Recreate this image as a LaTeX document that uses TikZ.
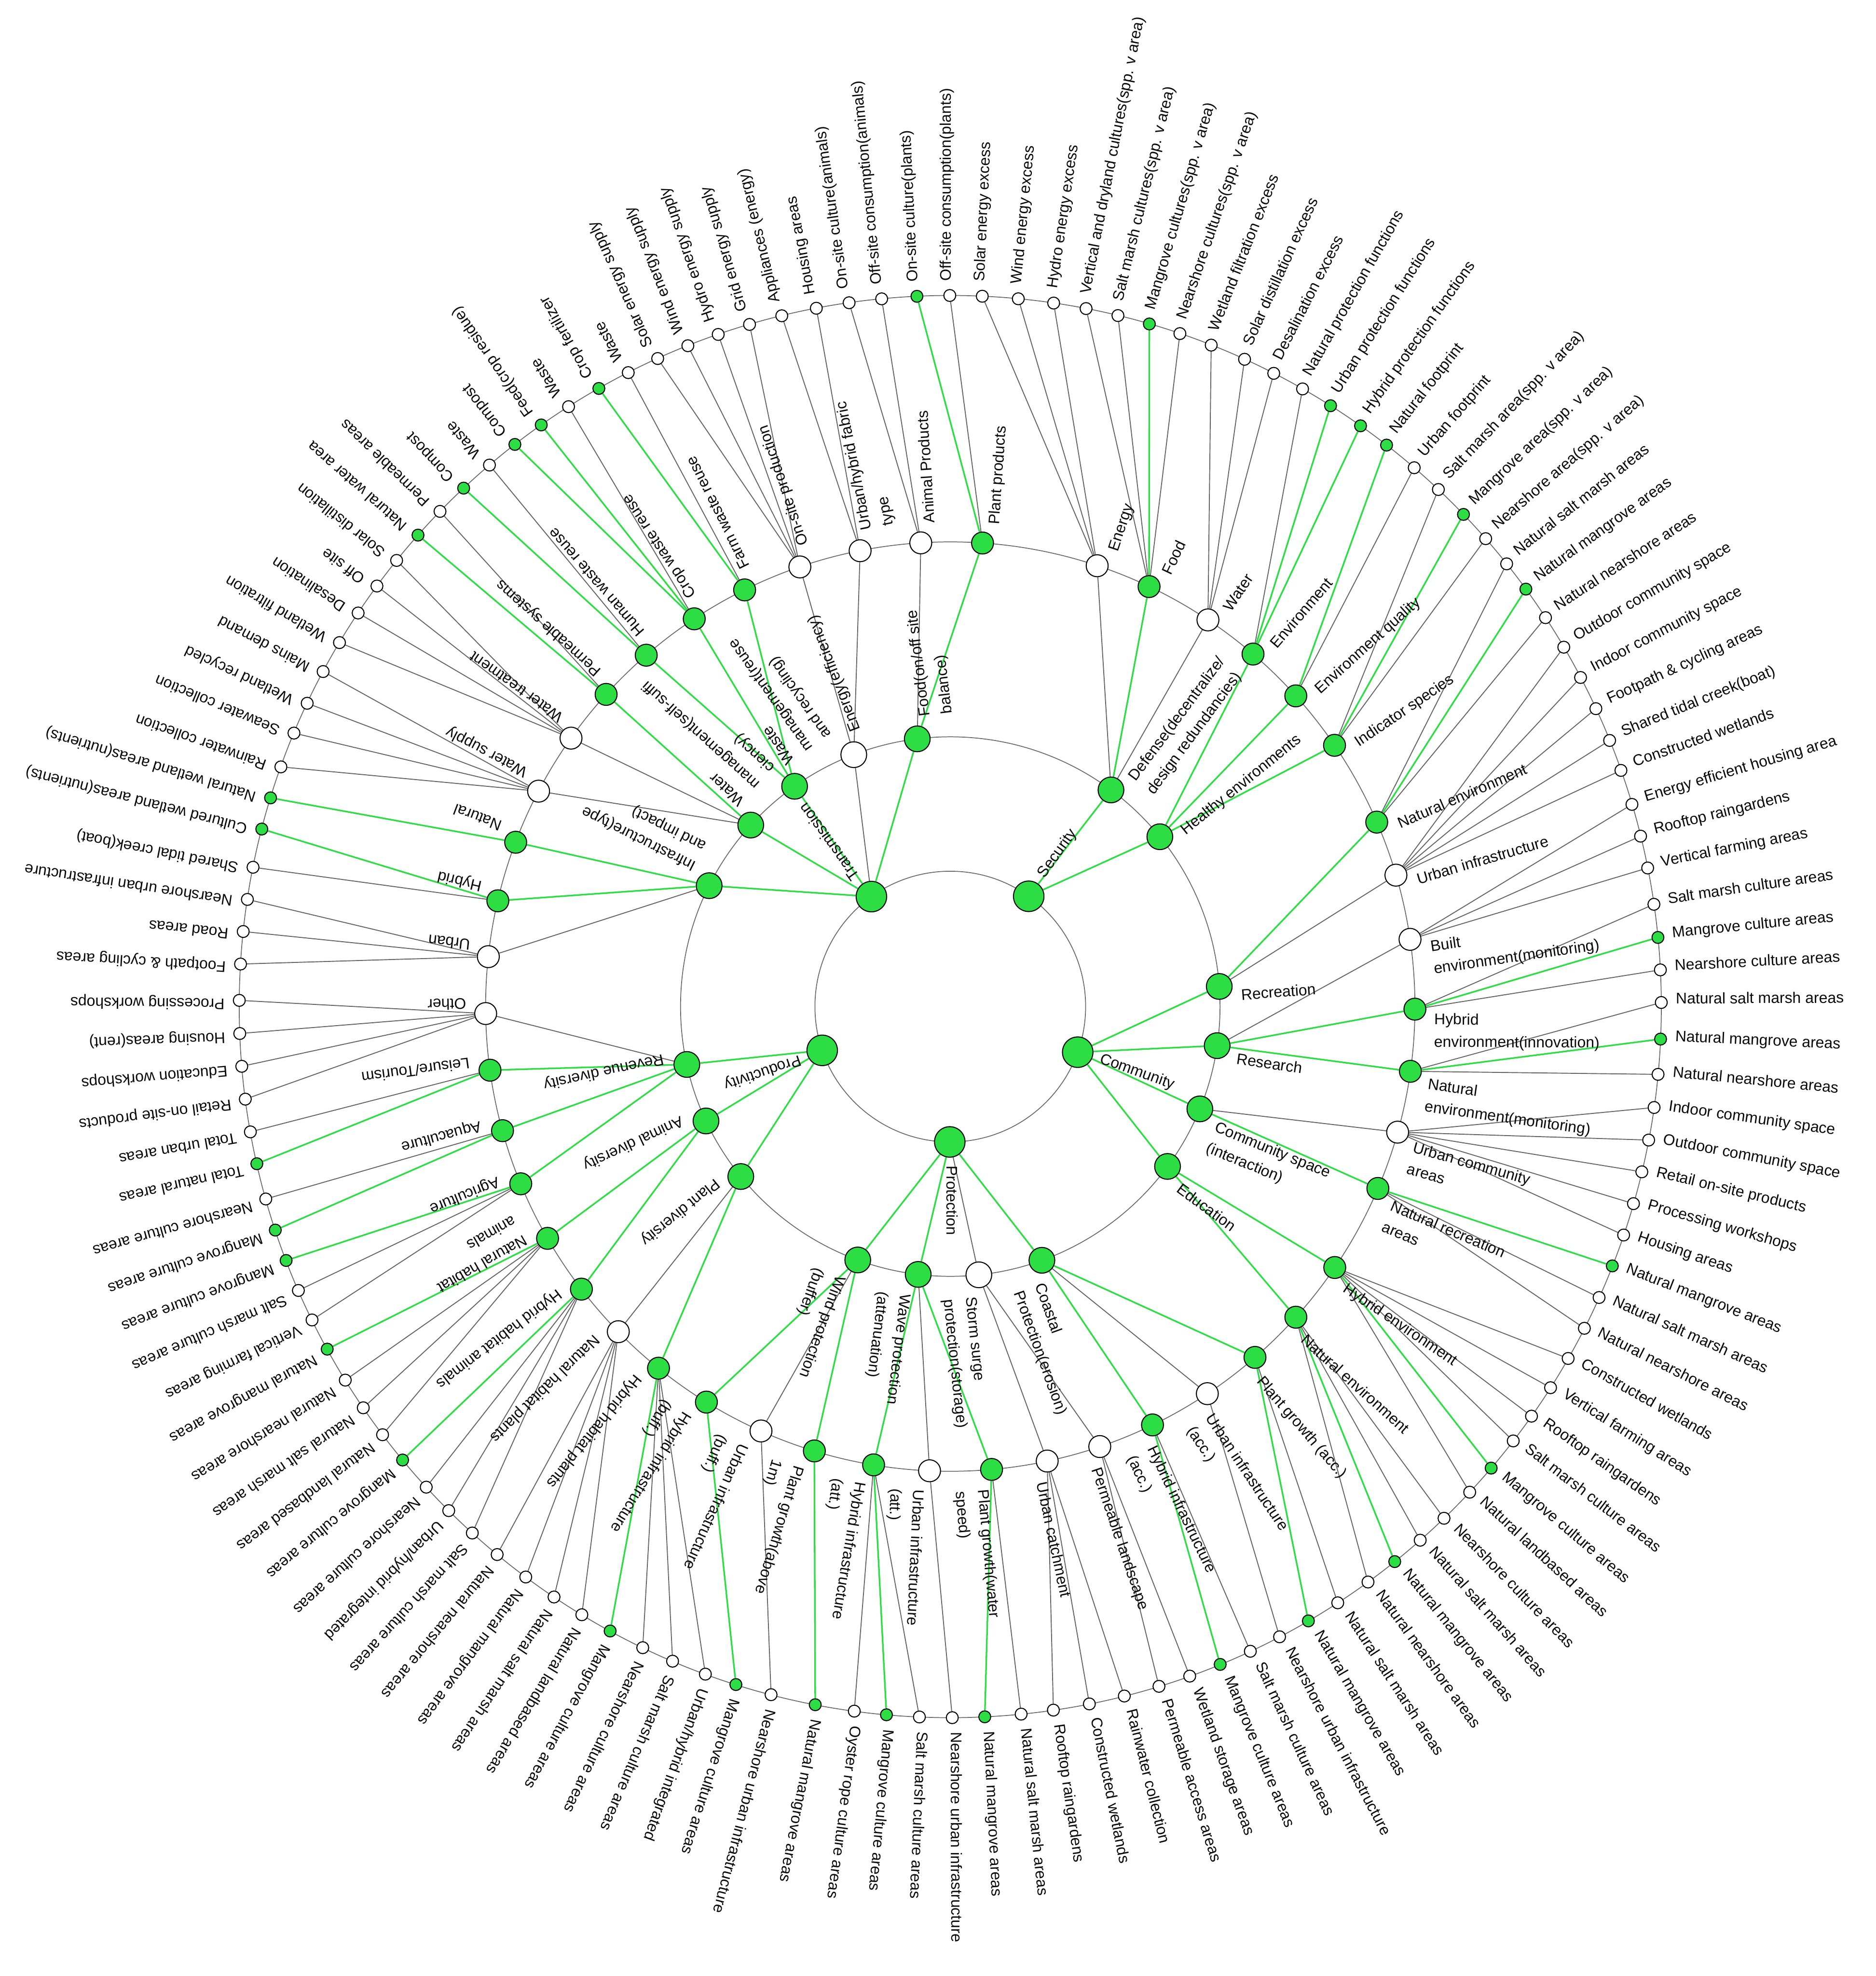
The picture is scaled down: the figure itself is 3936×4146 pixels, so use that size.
\documentclass[tikz,border=0pt]{standalone}
\usepackage{fontspec}
\setmainfont{Liberation Sans}
\usetikzlibrary{calc}
\definecolor{grn}{RGB}{44,222,68}
\definecolor{edgec}{RGB}{100,100,100}
\definecolor{ringc}{RGB}{105,105,105}
\definecolor{txt}{RGB}{10,10,10}
\pgfdeclarelayer{rg}\pgfdeclarelayer{ew}\pgfdeclarelayer{eg}
\pgfsetlayers{rg,ew,eg,main}
\tikzset{
  ring/.style={draw=ringc, line width=0.5pt},
  edw/.style={draw=edgec, line width=0.55pt},
  edg/.style={draw=grn, line width=0.95pt},
  ndbase/.style={circle, draw=black, line width=0.6pt, inner sep=0pt},
  nd1/.style={ndbase, minimum size=0.64cm},
  nd2/.style={ndbase, minimum size=0.54cm},
  nd3/.style={ndbase, minimum size=0.46cm},
  nd4/.style={ndbase, minimum size=0.25cm},
  fg/.style={fill=grn},
  fw/.style={fill=white},
  lbl/.style={font=\fontsize{9.2}{11}\selectfont, inner sep=0pt, text=txt}
}
% name, angle, radius, level, g/w, parent
\newcommand\mynd[6]{%
  \node[nd#4, f#5] (#1) at (#2:#3) {};
  \begin{pgfonlayer}{e#5}\draw[ed#5] (#6) -- (#1);\end{pgfonlayer}}
% name, angle, start radius, offset, text
\newcommand\mylab[5]{%
  \node[lbl, rotate=#2, anchor=base west] (#1) at ($(#2:#3)+(#2-90:#4)$) {#5};}
% id, angle, g/w, parent, text
\newcommand\mylf[5]{%
  \mynd{L#1}{#2}{1492}{4}{#3}{#4}%
  \mylab{LT#1}{#2}{1522}{3}{#5}}
\begin{document}
\begin{tikzpicture}[x=0.01cm,y=0.01cm]
\useasboundingbox (-1994,-2034) rectangle (1942,2112);
\begin{pgfonlayer}{rg}
\foreach \r in {284,566,975,1492}{\draw[ring] (0,0) circle[radius=\r];}
\end{pgfonlayer}
% ---------- level 1
\node[nd1,fg] (Tra) at (-234.35:284) {};
\node[nd1,fg] (Sec) at (-305.42:284) {};
\node[nd1,fg] (Com) at (-19.69:284) {};
\node[nd1,fg] (Pro) at (-90.21:284) {};
\node[nd1,fg] (Prd) at (-161.13:284) {};
\mylab{TraT}{-234.35}{333}{6}{Transmission}
\mylab{SecT}{-305.42}{333}{6}{Security}
\mylab{ComT}{-19.69}{333}{6}{Community}
\mylab{ProT}{-90.21}{333}{6}{Protection}
\mylab{PrdT}{-161.13}{333}{6}{Productivity}
% ---------- level 2
\mynd{Infra}{-206.63}{566}{2}{g}{Tra}
\mylab{InfraT1}{-206.63}{610}{32}{Infrastructure(type}
\mylab{InfraT2}{-206.63}{610}{79}{and impact)}
\mynd{WatM}{-222.29}{566}{2}{g}{Tra}
\mylab{WatMT1}{-222.29}{610}{32}{Water}
\mylab{WatMT2}{-222.29}{610}{79}{management(self-suffi}
\mylab{WatMT3}{-222.29}{610}{126}{ciency)}
\mynd{WasM}{-234.75}{566}{2}{g}{Tra}
\mylab{WasMT1}{-234.75}{610}{32}{Waste}
\mylab{WasMT2}{-234.75}{610}{79}{management(reuse}
\mylab{WasMT3}{-234.75}{610}{126}{and recycling)}
\mynd{EnE}{-249.04}{566}{2}{w}{Tra}
\mylab{EnET}{-249.04}{610}{32}{Energy(efficiency)}
\mynd{FoB}{-262.97}{566}{2}{g}{Tra}
\mylab{FoBT1}{-262.97}{610}{32}{Food(on/off site}
\mylab{FoBT2}{-262.97}{610}{79}{balance)}
\mynd{Def}{-306.57}{566}{2}{g}{Sec}
\mylab{DefT1}{-306.57}{610}{32}{Defense(decentralize/}
\mylab{DefT2}{-306.57}{610}{79}{design redundancies)}
\mynd{HEn}{-320.98}{566}{2}{g}{Sec}
\mylab{HEnT}{-320.98}{610}{32}{Healthy environments}
\mynd{Rec}{-355.72}{566}{2}{g}{Com}
\mylab{RecT}{-355.72}{610}{32}{Recreation}
\mynd{Res}{-8.33}{566}{2}{g}{Com}
\mylab{ResT}{-8.33}{610}{32}{Research}
\mynd{CSp}{-22.29}{566}{2}{g}{Com}
\mylab{CSpT1}{-22.29}{610}{32}{Community space}
\mylab{CSpT2}{-22.29}{610}{79}{(interaction)}
\mynd{Edu}{-36.34}{566}{2}{g}{Com}
\mylab{EduT}{-36.34}{610}{32}{Education}
\mynd{Coa}{-70.14}{566}{2}{g}{Pro}
\mylab{CoaT1}{-70.14}{610}{32}{Coastal}
\mylab{CoaT2}{-70.14}{610}{79}{Protection(erosion)}
\mynd{Sto}{-83.92}{566}{2}{w}{Pro}
\mylab{StoT1}{-83.92}{610}{32}{Storm surge}
\mylab{StoT2}{-83.92}{610}{79}{protection(storage)}
\mynd{Wav}{-96.83}{566}{2}{g}{Pro}
\mylab{WavT1}{-96.83}{610}{32}{Wave protection}
\mylab{WavT2}{-96.83}{610}{79}{(attenuation)}
\mynd{Win}{-110.06}{566}{2}{g}{Pro}
\mylab{WinT1}{-110.06}{610}{32}{Wind protection}
\mylab{WinT2}{-110.06}{610}{79}{(buffer)}
\mynd{PlD}{-140.95}{566}{2}{g}{Prd}
\mylab{PlDT}{-140.95}{610}{32}{Plant diversity}
\mynd{AnD}{-154.91}{566}{2}{g}{Prd}
\mylab{AnDT}{-154.91}{610}{32}{Animal diversity}
\mynd{RevD}{-167.61}{566}{2}{g}{Prd}
\mylab{RevDT}{-167.61}{610}{32}{Revenue diversity}
% ---------- level 3
\mynd{TUrb}{-186.17}{975}{3}{w}{Infra}\mylab{TUrbT}{-186.17}{1015}{32}{Urban}
\mynd{THyb}{-193.16}{975}{3}{g}{Infra}\mylab{THybT}{-193.16}{1015}{32}{Hybrid}
\mynd{TNat}{-200.71}{975}{3}{g}{Infra}\mylab{TNatT}{-200.71}{1015}{32}{Natural}
\mynd{WSup}{-207.62}{975}{3}{w}{WatM}\mylab{WSupT}{-207.62}{1015}{32}{Water supply}
\mynd{WTre}{-215.29}{975}{3}{w}{WatM}\mylab{WTreT}{-215.29}{1015}{32}{Water treatment}
\mynd{PSys}{-222.21}{975}{3}{g}{WatM}\mylab{PSysT}{-222.21}{1015}{32}{Permeable systems}
\mynd{HWR}{-229.13}{975}{3}{g}{WasM}\mylab{HWRT}{-229.13}{1015}{32}{Human waste reuse}
\mynd{CWR}{-236.56}{975}{3}{g}{WasM}\mylab{CWRT}{-236.56}{1015}{32}{Crop waste reuse}
\mynd{FWR}{-243.73}{975}{3}{g}{WasM}\mylab{FWRT}{-243.73}{1015}{32}{Farm waste reuse}
\mynd{OSP}{-251.11}{975}{3}{w}{EnE}\mylab{OSPT}{-251.11}{1015}{32}{On-site production}
\mynd{UHF}{-258.81}{975}{3}{w}{EnE}\mylab{UHFT1}{-258.81}{1015}{32}{Urban/hybrid fabric}\mylab{UHFT2}{-258.81}{1015}{79}{type}
\mynd{AnP}{-266.36}{975}{3}{w}{FoB}\mylab{AnPT}{-266.36}{1015}{32}{Animal Products}
\mynd{PlP}{-273.98}{975}{3}{g}{FoB}\mylab{PlPT}{-273.98}{1015}{32}{Plant products}
\mynd{DEn}{-288.43}{975}{3}{w}{Def}\mylab{DEnT}{-288.43}{1015}{32}{Energy}
\mynd{DFo}{-295.33}{975}{3}{g}{Def}\mylab{DFoT}{-295.33}{1015}{32}{Food}
\mynd{DWa}{-303.68}{975}{3}{w}{Def}\mylab{DWaT}{-303.68}{1015}{32}{Water}
\mynd{Env}{-310.66}{975}{3}{g}{HEn}\mylab{EnvT}{-310.66}{1015}{32}{Environment}
\mynd{EnQ}{-318.04}{975}{3}{g}{HEn}\mylab{EnQT}{-318.04}{1015}{32}{Environment quality}
\mynd{Ind}{-325.79}{975}{3}{g}{HEn}\mylab{IndT}{-325.79}{1015}{32}{Indicator species}
\mynd{RNE}{-336.61}{975}{3}{g}{Rec}\mylab{RNET}{-336.61}{1015}{32}{Natural environment}
\mynd{RUI}{-343.57}{975}{3}{w}{Rec}\mylab{RUIT}{-343.57}{1015}{32}{Urban infrastructure}
\mynd{Blt}{-351.68}{975}{3}{w}{Res}\mylab{BltT1}{-351.68}{1015}{32}{Built}\mylab{BltT2}{-351.68}{1015}{79}{environment(monitoring)}
\mynd{HEI}{-0.32}{975}{3}{g}{Res}\mylab{HEIT1}{-0.32}{1015}{32}{Hybrid}\mylab{HEIT2}{-0.32}{1015}{79}{environment(innovation)}
\mynd{NEM}{-8.01}{975}{3}{g}{Res}\mylab{NEMT1}{-8.01}{1015}{32}{Natural}\mylab{NEMT2}{-8.01}{1015}{79}{environment(monitoring)}
\mynd{UCA}{-15.68}{975}{3}{w}{CSp}\mylab{UCAT1}{-15.68}{1015}{32}{Urban community}\mylab{UCAT2}{-15.68}{1015}{79}{areas}
\mynd{NRA}{-23.04}{975}{3}{g}{CSp}\mylab{NRAT1}{-23.04}{1015}{32}{Natural recreation}\mylab{NRAT2}{-23.04}{1015}{79}{areas}
\mynd{EHE}{-34.16}{975}{3}{g}{Edu}\mylab{EHET}{-34.16}{1015}{32}{Hybrid environment}
\mynd{ENE}{-41.95}{975}{3}{g}{Edu}\mylab{ENET}{-41.95}{1015}{32}{Natural environment}
\mynd{PGA}{-49.02}{975}{3}{g}{Coa}\mylab{PGAT}{-49.02}{1015}{32}{Plant growth (acc.)}
\mynd{UIA}{-56.41}{975}{3}{w}{Coa}\mylab{UIAT1}{-56.41}{1015}{32}{Urban infrastructure}\mylab{UIAT2}{-56.41}{1015}{79}{(acc.)}
\mynd{HIA}{-64.20}{975}{3}{g}{Coa}\mylab{HIAT1}{-64.20}{1015}{32}{Hybrid infrastructure}\mylab{HIAT2}{-64.20}{1015}{79}{(acc.)}
\mynd{PLs}{-71.23}{975}{3}{w}{Sto}\mylab{PLsT}{-71.23}{1015}{32}{Permeable landscape}
\mynd{UCt}{-77.96}{975}{3}{w}{Sto}\mylab{UCtT}{-77.96}{1015}{32}{Urban catchment}
\mynd{PGW}{-84.90}{975}{3}{g}{Wav}\mylab{PGWT1}{-84.90}{1015}{32}{Plant growth(water}\mylab{PGWT2}{-84.90}{1015}{79}{speed)}
\mynd{UIT}{-92.56}{975}{3}{w}{Wav}\mylab{UITT1}{-92.56}{1015}{32}{Urban infrastructure}\mylab{UITT2}{-92.56}{1015}{79}{(att.)}
\mynd{HIT}{-99.50}{975}{3}{g}{Wav}\mylab{HITT1}{-99.50}{1015}{32}{Hybrid infrastructure}\mylab{HITT2}{-99.50}{1015}{79}{(att.)}
\mynd{PGB}{-107.01}{975}{3}{g}{Win}\mylab{PGBT1}{-107.01}{1015}{32}{Plant growth(above}\mylab{PGBT2}{-107.01}{1015}{79}{1m)}
\mynd{UIB}{-114.04}{975}{3}{w}{Win}\mylab{UIBT1}{-114.04}{1015}{32}{Urban infrastructure}\mylab{UIBT2}{-114.04}{1015}{79}{(buff.)}
\mynd{HIB}{-121.66}{975}{3}{g}{Win}\mylab{HIBT1}{-121.66}{1015}{32}{Hybrid infrastructure}\mylab{HIBT2}{-121.66}{1015}{79}{(buff.)}
\mynd{HHP}{-128.90}{975}{3}{g}{PlD}\mylab{HHPT}{-128.90}{1015}{32}{Hybrid habitat plants}
\mynd{NHP}{-135.60}{975}{3}{w}{PlD}\mylab{NHPT}{-135.60}{1015}{32}{Natural habitat plants}
\mynd{HHA}{-142.55}{975}{3}{g}{AnD}\mylab{HHAT}{-142.55}{1015}{32}{Hybrid habitat animals}
\mynd{NHA}{-150.08}{975}{3}{g}{AnD}\mylab{NHAT1}{-150.08}{1015}{32}{Natural habitat}\mylab{NHAT2}{-150.08}{1015}{79}{animals}
\mynd{Agr}{-157.58}{975}{3}{g}{RevD}\mylab{AgrT}{-157.58}{1015}{32}{Agriculture}
\mynd{Aqu}{-164.51}{975}{3}{g}{RevD}\mylab{AquT}{-164.51}{1015}{32}{Aquaculture}
\mynd{Lei}{-172.13}{975}{3}{g}{RevD}\mylab{LeiT}{-172.13}{1015}{32}{Leisure/Tourism}
\mynd{Oth}{-179.14}{975}{3}{w}{RevD}\mylab{OthT}{-179.14}{1015}{32}{Other}
% ---------- leaves
\mylf{1}{-183.43}{w}{TUrb}{Footpath \& cycling areas}
\mylf{2}{-186.06}{w}{TUrb}{Road areas}
\mylf{3}{-188.67}{w}{TUrb}{Nearshore urban infrastructure}
\mylf{4}{-191.30}{w}{THyb}{Shared tidal creek(boat)}
\mylf{5}{-194.46}{g}{THyb}{Cultured wetland areas(nutrients)}
\mylf{6}{-197.07}{g}{TNat}{Natural wetland areas(nutrients)}
\mylf{7}{-199.70}{w}{WSup}{Rainwater collection}
\mylf{8}{-202.62}{w}{WSup}{Seawater collection}
\mylf{9}{-205.25}{w}{WSup}{Wetland recycled}
\mylf{10}{-208.11}{w}{WSup}{Mains demand}
\mylf{11}{-210.79}{w}{WTre}{Wetland filtration}
\mylf{12}{-213.61}{w}{WTre}{Desalination}
\mylf{13}{-216.26}{w}{WTre}{Off site}
\mylf{14}{-218.86}{w}{WTre}{Solar distillation}
\mylf{15}{-221.53}{g}{PSys}{Natural water area}
\mylf{16}{-224.14}{w}{PSys}{Permeable areas}
\mylf{17}{-226.81}{g}{HWR}{Compost}
\mylf{18}{-229.60}{w}{HWR}{Waste}
\mylf{19}{-232.24}{g}{CWR}{Compost}
\mylf{20}{-234.88}{g}{CWR}{Feed(crop residue)}
\mylf{21}{-237.53}{w}{CWR}{Waste}
\mylf{22}{-240.38}{g}{FWR}{Crop fertilizer}
\mylf{23}{-243.07}{w}{FWR}{Waste}
\mylf{24}{-245.70}{w}{OSP}{Solar energy supply}
\mylf{25}{-248.34}{w}{OSP}{Wind energy supply}
\mylf{26}{-250.95}{w}{OSP}{Hydro energy supply}
\mylf{27}{-253.60}{w}{OSP}{Grid energy supply}
\mylf{28}{-256.29}{w}{UHF}{Appliances (energy)}
\mylf{29}{-259.14}{w}{UHF}{Housing areas}
\mylf{30}{-261.82}{w}{AnP}{On-site culture(animals)}
\mylf{31}{-264.46}{w}{AnP}{Off-site consumption(animals)}
\mylf{32}{-267.31}{g}{PlP}{On-site culture(plants)}
\mylf{33}{-269.96}{w}{PlP}{Off-site consumption(plants)}
\mylf{34}{-272.58}{w}{DEn}{Solar energy excess}
\mylf{35}{-275.49}{w}{DEn}{Wind energy excess}
\mylf{36}{-278.36}{w}{DEn}{Hydro energy excess}
\mylf{37}{-281.01}{w}{DFo}{Vertical and dryland cultures(spp. v area)}
\mylf{38}{-283.64}{w}{DFo}{Salt marsh cultures(spp. v area)}
\mylf{39}{-286.26}{g}{DFo}{Mangrove cultures(spp. v area)}
\mylf{40}{-288.84}{w}{DFo}{Nearshore cultures(spp. v area)}
\mylf{41}{-291.53}{w}{DWa}{Wetland filtration excess}
\mylf{42}{-294.45}{w}{DWa}{Solar distillation excess}
\mylf{43}{-297.06}{w}{DWa}{Desalination excess}
\mylf{44}{-299.70}{w}{Env}{Natural protection functions}
\mylf{45}{-302.33}{g}{Env}{Urban protection functions}
\mylf{46}{-305.24}{g}{Env}{Hybrid protection functions}
\mylf{47}{-307.85}{g}{EnQ}{Natural footprint}
\mylf{48}{-310.73}{w}{EnQ}{Urban footprint}
\mylf{49}{-313.35}{w}{Ind}{Salt marsh area(spp. v area)}
\mylf{50}{-316.20}{g}{Ind}{Mangrove area(spp. v area)}
\mylf{51}{-318.85}{w}{Ind}{Nearshore area(spp. v area)}
\mylf{52}{-321.49}{w}{RNE}{Natural salt marsh areas}
\mylf{53}{-324.05}{g}{RNE}{Natural mangrove areas}
\mylf{54}{-326.84}{w}{RNE}{Natural nearshore areas}
\mylf{55}{-329.64}{w}{RUI}{Outdoor community space}
\mylf{56}{-332.43}{w}{RUI}{Indoor community space}
\mylf{57}{-335.23}{w}{RUI}{Footpath \& cycling areas}
\mylf{58}{-338.02}{w}{RUI}{Shared tidal creek(boat)}
\mylf{59}{-340.60}{w}{RUI}{Constructed wetlands}
\mylf{60}{-343.48}{w}{Blt}{Energy efficient housing area}
\mylf{61}{-346.13}{w}{Blt}{Rooftop raingardens}
\mylf{62}{-348.76}{w}{Blt}{Vertical farming areas}
\mylf{63}{-351.73}{w}{HEI}{Salt marsh culture areas}
\mylf{64}{-354.42}{g}{HEI}{Mangrove culture areas}
\mylf{65}{-357.04}{w}{HEI}{Nearshore culture areas}
\mylf{66}{-359.67}{w}{NEM}{Natural salt marsh areas}
\mylf{67}{-2.62}{g}{NEM}{Natural mangrove areas}
\mylf{68}{-5.47}{w}{NEM}{Natural nearshore areas}
\mylf{69}{-8.16}{w}{UCA}{Indoor community space}
\mylf{70}{-10.82}{w}{UCA}{Outdoor community space}
\mylf{71}{-13.44}{w}{UCA}{Retail on-site products}
\mylf{72}{-16.09}{w}{UCA}{Processing workshops}
\mylf{73}{-18.74}{w}{UCA}{Housing areas}
\mylf{74}{-21.39}{g}{NRA}{Natural mangrove areas}
\mylf{75}{-24.15}{w}{NRA}{Natural salt marsh areas}
\mylf{76}{-26.90}{w}{NRA}{Natural nearshore areas}
\mylf{77}{-29.66}{w}{EHE}{Constructed wetlands}
\mylf{78}{-32.41}{w}{EHE}{Vertical farming areas}
\mylf{79}{-35.17}{w}{EHE}{Rooftop raingardens}
\mylf{80}{-37.65}{w}{EHE}{Salt marsh culture areas}
\mylf{81}{-40.47}{g}{EHE}{Mangrove culture areas}
\mylf{82}{-43.07}{w}{EHE}{Natural landbased areas}
\mylf{83}{-46.02}{w}{ENE}{Nearshore culture areas}
\mylf{84}{-48.63}{w}{ENE}{Natural salt marsh areas}
\mylf{85}{-51.31}{g}{ENE}{Natural mangrove areas}
\mylf{86}{-54.02}{w}{ENE}{Natural nearshore areas}
\mylf{87}{-56.98}{w}{PGA}{Natural salt marsh areas}
\mylf{88}{-59.76}{g}{PGA}{Natural mangrove areas}
\mylf{89}{-62.41}{w}{UIA}{Nearshore urban infrastructure}
\mylf{90}{-65.04}{w}{HIA}{Salt marsh culture areas}
\mylf{91}{-67.69}{g}{HIA}{Mangrove culture areas}
\mylf{92}{-70.32}{w}{PLs}{Wetland storage areas}
\mylf{93}{-72.93}{w}{PLs}{Permeable access areas}
\mylf{94}{-75.83}{w}{UCt}{Rainwater collection}
\mylf{95}{-78.72}{w}{UCt}{Constructed wetlands}
\mylf{96}{-81.66}{w}{UCt}{Rooftop raingardens}
\mylf{97}{-84.28}{w}{PGW}{Natural salt marsh areas}
\mylf{98}{-87.22}{g}{PGW}{Natural mangrove areas}
\mylf{99}{-89.84}{w}{UIT}{Nearshore urban infrastructure}
\mylf{100}{-92.49}{w}{HIT}{Salt marsh culture areas}
\mylf{101}{-95.15}{g}{HIT}{Mangrove culture areas}
\mylf{102}{-97.76}{w}{HIT}{Oyster rope culture areas}
\mylf{103}{-100.95}{g}{PGB}{Natural mangrove areas}
\mylf{104}{-104.60}{w}{UIB}{Nearshore urban infrastructure}
\mylf{105}{-107.55}{g}{HIB}{Mangrove culture areas}
\mylf{106}{-110.15}{w}{HHP}{Urban/hybrid integrated}
\mylf{107}{-112.99}{w}{HHP}{Salt marsh culture areas}
\mylf{108}{-115.63}{w}{HHP}{Nearshore culture areas}
\mylf{109}{-118.58}{g}{HHP}{Mangrove culture areas}
\mylf{110}{-121.21}{w}{NHP}{Natural landbased areas}
\mylf{111}{-123.87}{w}{NHP}{Natural salt marsh areas}
\mylf{112}{-126.66}{w}{NHP}{Natural mangrove areas}
\mylf{113}{-129.59}{w}{NHP}{Natural nearshore areas}
\mylf{114}{-132.24}{w}{HHA}{Salt marsh culture areas}
\mylf{115}{-134.86}{w}{HHA}{Urban/hybrid integrated}
\mylf{116}{-137.48}{w}{HHA}{Nearshore culture areas}
\mylf{117}{-140.38}{g}{HHA}{Mangrove culture areas}
\mylf{118}{-142.98}{w}{NHA}{Natural landbased areas}
\mylf{119}{-145.65}{w}{NHA}{Natural salt marsh areas}
\mylf{120}{-148.31}{w}{NHA}{Natural nearshore areas}
\mylf{121}{-151.20}{g}{NHA}{Natural mangrove areas}
\mylf{122}{-153.85}{w}{Agr}{Vertical farming areas}
\mylf{123}{-156.47}{w}{Agr}{Salt marsh culture areas}
\mylf{124}{-159.08}{g}{Agr}{Mangrove culture areas}
\mylf{125}{-161.68}{g}{Aqu}{Mangrove culture areas}
\mylf{126}{-164.30}{w}{Aqu}{Nearshore culture areas}
\mylf{127}{-167.23}{g}{Lei}{Total natural areas}
\mylf{128}{-169.85}{w}{Lei}{Total urban areas}
\mylf{129}{-172.52}{w}{Oth}{Retail on-site products}
\mylf{130}{-175.18}{w}{Oth}{Education workshops}
\mylf{131}{-177.83}{w}{Oth}{Housing areas(rent)}
\mylf{132}{-180.50}{w}{Oth}{Processing workshops}
\end{tikzpicture}
\end{document}
